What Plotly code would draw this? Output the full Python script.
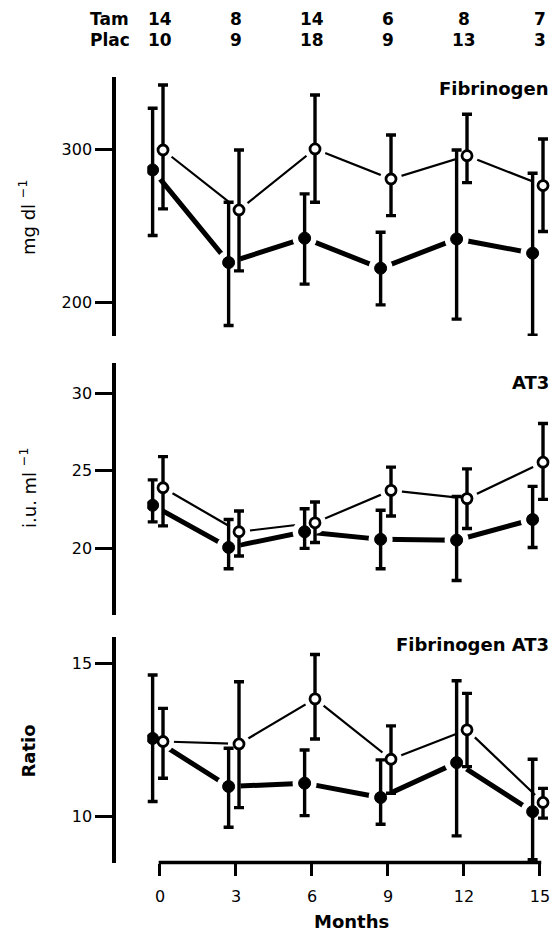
import plotly.graph_objects as go

# ---------------- data ----------------
months = [0, 3, 6, 9, 12, 15]
month_labels = ["0", "3", "6", "9", "12", "15"]
tam_n = [14, 8, 14, 6, 8, 7]
plac_n = [10, 9, 18, 9, 13, 3]

# Fibrinogen (mg/dl)
fib_tam = [286.5, 226.1, 242.0, 222.4, 241.5, 232.2]
fib_tam_hi = [326.7, 265.4, 270.9, 245.9, 299.5, 284.3]
fib_tam_lo = [243.7, 185.0, 212.0, 198.5, 189.2, 178.7]
fib_plac = [299.5, 260.4, 300.2, 280.6, 295.8, 276.3]
fib_plac_hi = [341.9, 299.5, 335.4, 309.3, 322.8, 306.7]
fib_plac_lo = [261.1, 220.7, 265.4, 256.7, 278.2, 246.3]

# AT3 (i.u./ml)
at3_tam = [22.78, 20.06, 21.07, 20.58, 20.53, 21.86]
at3_tam_hi = [24.42, 21.86, 22.56, 22.46, 23.35, 24.0]
at3_tam_lo = [21.71, 18.68, 20.0, 18.68, 17.93, 20.06]
at3_plac = [23.91, 21.07, 21.65, 23.74, 23.21, 25.56]
at3_plac_hi = [25.92, 22.41, 22.99, 25.24, 25.13, 28.06]
at3_plac_lo = [21.45, 19.51, 20.38, 22.09, 21.28, 23.16]

# Fibrinogen / AT3 ratio
rat_tam = [12.55, 10.98, 11.09, 10.62, 11.76, 10.16]
rat_tam_hi = [14.62, 12.23, 12.17, 11.85, 14.43, 11.87]
rat_tam_lo = [10.49, 9.65, 10.03, 9.75, 9.37, 8.59]
rat_plac = [12.45, 12.37, 13.84, 11.87, 12.83, 10.46]
rat_plac_hi = [13.53, 14.40, 15.29, 12.96, 14.02, 10.92]
rat_plac_lo = [11.25, 10.29, 12.53, 10.76, 11.63, 9.95]

# ---------------- layout constants ----------------
W, H = 555, 936
TAM_SHIFT = -0.29   # horizontal stagger (months) of filled symbols
PLAC_SHIFT = 0.12   # horizontal stagger (months) of open symbols
FONT = "DejaVu Sans, Liberation Sans, sans-serif"
X_RANGE = [-0.5, 15.4]
X_DOMAIN_PX = (147.3, 550.1)
Y_AXIS_X_PX = 114.3


def py(px):
    return 1 - px / H


def px_x(px):
    return px / W


panels = [
    dict(tam=fib_tam, tam_hi=fib_tam_hi, tam_lo=fib_tam_lo,
         plac=fib_plac, plac_hi=fib_plac_hi, plac_lo=fib_plac_lo,
         dom=(336.0, 76.7), rng=(178.2, 347.3), ticks=[200, 300],
         label="Fibrinogen", label_y=88.5,
         ytitle="mg dl\u00a0<sup>−1</sup>", ytitle_x=27, ytitle_y=218),
    dict(tam=at3_tam, tam_hi=at3_tam_hi, tam_lo=at3_tam_lo,
         plac=at3_plac, plac_hi=at3_plac_hi, plac_lo=at3_plac_lo,
         dom=(615.0, 363.3), rng=(15.7, 31.94), ticks=[20, 25, 30],
         label="AT3", label_y=382.5,
         ytitle="i.u. ml\u00a0<sup>−1</sup>", ytitle_x=28, ytitle_y=488),
    dict(tam=rat_tam, tam_hi=rat_tam_hi, tam_lo=rat_tam_lo,
         plac=rat_plac, plac_hi=rat_plac_hi, plac_lo=rat_plac_lo,
         dom=(862.5, 636.7), rng=(8.5, 15.87), ticks=[10, 15],
         label="Fibrinogen AT3", label_y=644,
         ytitle="<b>Ratio</b>", ytitle_x=27.5, ytitle_y=751),
]

fig = go.Figure()
x_tam = [m + TAM_SHIFT for m in months]
x_plac = [m + PLAC_SHIFT for m in months]

annotations = []
layout = {}
for i, p in enumerate(panels, start=1):
    xa = "x" if i == 1 else f"x{i}"
    ya = "y" if i == 1 else f"y{i}"
    # connecting lines
    fig.add_trace(go.Scatter(x=x_tam, y=p["tam"], mode="lines", xaxis=xa, yaxis=ya,
                             line=dict(color="black", width=5), showlegend=False,
                             hoverinfo="skip"))
    fig.add_trace(go.Scatter(x=x_plac, y=p["plac"], mode="lines", xaxis=xa, yaxis=ya,
                             line=dict(color="black", width=2.2), showlegend=False,
                             hoverinfo="skip"))
    # white halos leave gaps between the lines and the symbols
    for xs, ys, sz in ((x_tam, p["tam"], 24), (x_plac, p["plac"], 22)):
        fig.add_trace(go.Scatter(x=xs, y=ys, mode="markers", xaxis=xa, yaxis=ya,
                                 marker=dict(color="white", size=sz, line=dict(width=0)),
                                 showlegend=False, hoverinfo="skip"))
    # error bars + symbols
    fig.add_trace(go.Scatter(
        x=x_tam, y=p["tam"], mode="markers", xaxis=xa, yaxis=ya, name="Tam",
        marker=dict(color="black", size=12, line=dict(color="black", width=1)),
        error_y=dict(type="data", symmetric=False,
                     array=[h - v for h, v in zip(p["tam_hi"], p["tam"])],
                     arrayminus=[v - l for l, v in zip(p["tam_lo"], p["tam"])],
                     color="black", thickness=3.4, width=5),
        showlegend=False))
    fig.add_trace(go.Scatter(
        x=x_plac, y=p["plac"], mode="markers", xaxis=xa, yaxis=ya, name="Plac",
        marker=dict(color="white", size=10, line=dict(color="black", width=2.8)),
        error_y=dict(type="data", symmetric=False,
                     array=[h - v for h, v in zip(p["plac_hi"], p["plac"])],
                     arrayminus=[v - l for l, v in zip(p["plac_lo"], p["plac"])],
                     color="black", thickness=3.4, width=5),
        showlegend=False))

    xkey = "xaxis" if i == 1 else f"xaxis{i}"
    ykey = "yaxis" if i == 1 else f"yaxis{i}"
    visible_x = (i == 3)
    layout[xkey] = dict(
        domain=[px_x(X_DOMAIN_PX[0]), px_x(X_DOMAIN_PX[1])], range=X_RANGE, anchor=ya,
        showline=False,
        ticks="outside" if visible_x else "", ticklen=12, tickwidth=3.4, tickcolor="black",
        tickvals=months, ticktext=month_labels, showticklabels=visible_x,
        ticklabelstandoff=7,
        showgrid=False, zeroline=False,
        tickfont=dict(family=FONT, size=16, color="black"),
    )
    layout[ykey] = dict(
        domain=[py(p["dom"][0]), py(p["dom"][1])], range=list(p["rng"]),
        anchor="free", position=px_x(Y_AXIS_X_PX),
        showline=True, linewidth=4, linecolor="black",
        ticks="outside", ticklen=17, tickwidth=3.2, tickcolor="black",
        tickvals=p["ticks"], showgrid=False, zeroline=False,
        tickfont=dict(family=FONT, size=16, color="black"),
    )
    annotations.append(dict(
        text=f"<b>{p['label']}</b>", xref="paper", yref="paper",
        x=px_x(551), y=py(p["label_y"]), xanchor="right", yanchor="middle",
        showarrow=False, font=dict(family=FONT, size=18, color="black")))
    annotations.append(dict(
        text=p["ytitle"], xref="paper", yref="paper", textangle=-90,
        x=px_x(p["ytitle_x"]), y=py(p["ytitle_y"]), xanchor="center", yanchor="middle",
        showarrow=False, font=dict(family=FONT, size=18, color="black")))

# x-axis baseline of the bottom panel (from month 0 to month 15)
shapes = [dict(type="line", xref="x3", yref="y3 domain", x0=months[0] - 0.05,
               x1=months[-1] + 0.05, y0=0, y1=0, line=dict(color="black", width=3.4))]

# header counts
HDR = dict(family=FONT, size=17, color="black")
annotations.append(dict(text="<b>Tam</b>", xref="paper", yref="paper",
                        x=px_x(131), y=py(19), xanchor="right", yanchor="middle",
                        showarrow=False, font=HDR))
annotations.append(dict(text="<b>Plac</b>", xref="paper", yref="paper",
                        x=px_x(132), y=py(40), xanchor="right", yanchor="middle",
                        showarrow=False, font=HDR))
for m, t, pl in zip(months, tam_n, plac_n):
    annotations.append(dict(text=f"<b>{t}</b>", xref="x3", yref="paper", x=m, y=py(19),
                            xanchor="center", yanchor="middle", showarrow=False, font=HDR))
    annotations.append(dict(text=f"<b>{pl}</b>", xref="x3", yref="paper", x=m, y=py(40),
                            xanchor="center", yanchor="middle", showarrow=False, font=HDR))

annotations.append(dict(text="<b>Months</b>", xref="paper", yref="paper",
                        x=px_x(351), y=py(921), xanchor="center", yanchor="middle",
                        showarrow=False, font=dict(family=FONT, size=18, color="black")))

fig.update_layout(
    width=W, height=H, margin=dict(l=0, r=0, t=0, b=0),
    paper_bgcolor="white", plot_bgcolor="white",
    annotations=annotations, shapes=shapes, showlegend=False, **layout,
)

fig.write_html("out.html")
